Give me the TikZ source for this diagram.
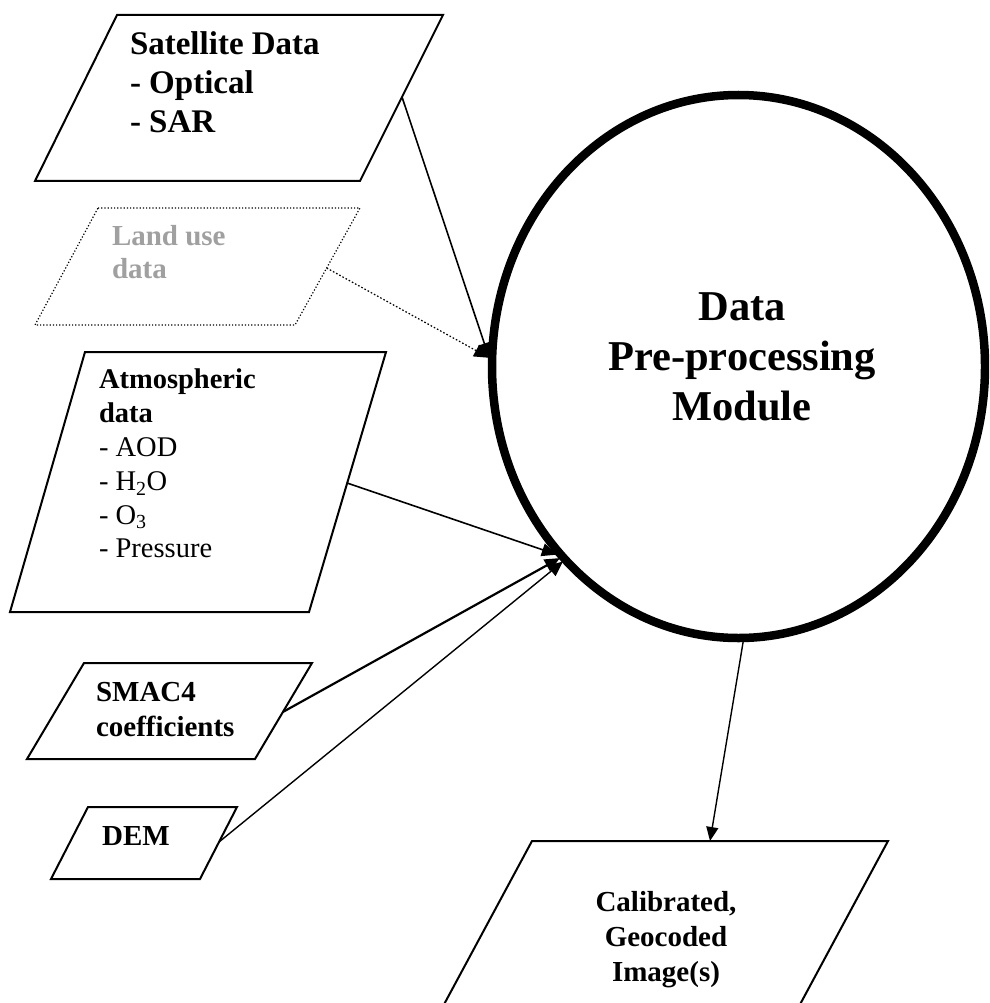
\documentclass[tikz,border=0pt]{standalone}
\usepackage{fontspec}
\setmainfont{Liberation Serif}
\usetikzlibrary{arrows.meta,calc,shapes.geometric}
\definecolor{landgray}{RGB}{160,160,160}
\begin{document}
\begin{tikzpicture}[x=1pt,y=-1pt,
  box/.style={draw=black,line width=2pt,line join=miter},
  dotbox/.style={draw=black,line width=1.2pt,dotted},
  lbl/.style={inner sep=0pt,outer sep=0pt,align=left,anchor=north west},
  feed/.style={draw=black,line width=1.6pt,-{Triangle[length=15pt,width=13pt]}},
  outarrow/.style={draw=black,line width=1.4pt,-{Triangle[length=14pt,width=12pt]}}
]
\useasboundingbox (0,0) rectangle (989,1003);
\clip (0,0) rectangle (989,1003);

% central module
\node[ellipse,draw=black,line width=8.5pt,minimum width=493pt,minimum height=543pt,
      inner sep=0pt,outer sep=3pt] (mod) at (738.5,366.5) {};
\node[lbl,anchor=north,align=center,font=\fontsize{42.5}{50}\selectfont\bfseries]
  (modtxt) at (742,285) {\strut Data\\Pre-processing\\Module};

% satellite data
\coordinate (satTL) at (117,15);  \coordinate (satTR) at (443,15);
\coordinate (satBR) at (360,181); \coordinate (satBL) at (35,181);
\draw[box] (satTL) -- (satTR) -- (satBR) -- (satBL) -- cycle;
\coordinate (satR) at ($(satTR)!0.494!(satBR)$);
\node[lbl,font=\fontsize{33}{39}\selectfont\bfseries] (sattxt) at (130,27.7)
  {\strut Satellite Data\\- Optical\\- SAR};

% land use data
\coordinate (landTL) at (98,208);  \coordinate (landTR) at (360,208);
\coordinate (landBR) at (295,325); \coordinate (landBL) at (35,325);
\draw[dotbox] (landTL) -- (landTR) -- (landBR) -- (landBL) -- cycle;
\coordinate (landR) at ($(landTR)!0.513!(landBR)$);
\node[lbl,font=\fontsize{29}{33}\selectfont\bfseries,text=landgray] (landtxt) at (112,221.9)
  {\strut Land use\\data};

% atmospheric data
\coordinate (atmTL) at (85,352);  \coordinate (atmTR) at (386,352);
\coordinate (atmBR) at (309,612); \coordinate (atmBL) at (10,612);
\draw[box] (atmTL) -- (atmTR) -- (atmBR) -- (atmBL) -- cycle;
\coordinate (atmR) at ($(atmTR)!0.504!(atmBR)$);
\node[lbl,font=\fontsize{28.5}{33.8}\selectfont] (atmtxt) at (99,365.3)
  {\strut\textbf{Atmospheric}\\\textbf{data}\\- AOD\\- H\textsubscript{2}O\\- O\textsubscript{3}\\- Pressure};

% SMAC4 coefficients
\coordinate (smacTL) at (84,663);  \coordinate (smacTR) at (312,663);
\coordinate (smacBR) at (255,759); \coordinate (smacBL) at (27,759);
\draw[box] (smacTL) -- (smacTR) -- (smacBR) -- (smacBL) -- cycle;
\coordinate (smacR) at ($(smacTR)!0.51!(smacBR)$);
\node[lbl,font=\fontsize{29}{35}\selectfont\bfseries] (smactxt) at (96,676.5)
  {\strut SMAC4\\coefficients};

% DEM
\coordinate (demTL) at (88,807);  \coordinate (demTR) at (237,807);
\coordinate (demBR) at (200,879); \coordinate (demBL) at (51,879);
\draw[box] (demTL) -- (demTR) -- (demBR) -- (demBL) -- cycle;
\coordinate (demR) at ($(demTR)!0.486!(demBR)$);
\node[inner sep=0pt,anchor=base west,font=\fontsize{29}{35}\selectfont\bfseries] (demtxt) at (102,845) {DEM};

% output
\coordinate (outTL) at (532,841);  \coordinate (outTR) at (888,841);
\coordinate (outBR) at (797,1010); \coordinate (outBL) at (441,1010);
\draw[box] (outTL) -- (outTR) -- (outBR) -- (outBL) -- cycle;
\coordinate (outT) at ($(outTL)!0.5!(outTR)$);
\node[lbl,anchor=north,align=center,font=\fontsize{29}{35}\selectfont\bfseries] (outtxt) at (666,886.5)
  {\strut Calibrated,\\Geocoded\\Image(s)};

% connectors
\draw[feed] (satR) -- (mod.178.5);
\draw[feed,dotted,line width=1.2pt] (landR) -- (mod.178.5);
\draw[feed] (atmR) -- (mod.226);
\draw[feed,line width=2.2pt] (smacR) -- (mod.227.3);
\draw[feed,line width=1.4pt] (demR) -- (mod.228.3);
\draw[outarrow] (mod.271) -- (outT);
\end{tikzpicture}
\end{document}
